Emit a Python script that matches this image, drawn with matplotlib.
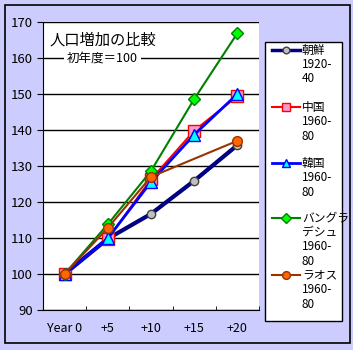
import numpy as np
import matplotlib
matplotlib.use("Agg")
import matplotlib.pyplot as plt
from matplotlib.patches import Rectangle
from matplotlib.lines import Line2D

plt.rcParams['font.family'] = ['Noto Sans CJK JP', 'DejaVu Sans']

# データ
categories = ["Year 0", "+5", "+10", "+15", "+20"]
chosen = [100, 109.8, 116.7, 125.9, 135.8]      # 朝鮮 1920-40
china = [100, 109.8, 126.3, 139.8, 149.4]       # 中国 1960-80
korea = [100, 109.9, 125.6, 138.7, 150.0]       # 韓国 1960-80
bangla = [100, 113.8, 128.6, 148.6, 166.9]      # バングラデシュ 1960-80
laos = [100, 112.8, 127.0, np.nan, 137.0]       # ラオス 1960-80

labels = [["朝鮮", "1920-", "40"], ["中国", "1960-", "80"], ["韓国", "1960-", "80"],
          ["バングラ", "デシュ", "1960-", "80"], ["ラオス", "1960-", "80"]]

W, H = 353, 350
def fx(px):
    return px / W
def fy(py):
    return 1 - py / H

fig = plt.figure(figsize=(W / 100, H / 100), dpi=100)
fig.patch.set_facecolor('#CCCCFF')
fig.patches.append(Rectangle((fx(5), fy(343)), 345 / W, 338 / H, transform=fig.transFigure,
                             fill=False, edgecolor='black', linewidth=1.2))

ax = fig.add_axes([fx(43), fy(310), 216 / W, 288 / H])
ax.set_facecolor('white')
x = np.arange(len(categories))

styles = [
    dict(color='#000080', lw=3, marker='o', ms=6, mfc='#C0C0C0', mec='#404040'),
    dict(color='#FF0000', lw=1.5, marker='s', ms=8, mfc='#FF99CC', mec='#FF0000'),
    dict(color='#0000FF', lw=2, marker='^', ms=8, mfc='#00FFFF', mec='#0000FF'),
    dict(color='#008000', lw=1.5, marker='D', ms=6, mfc='#00FF00', mec='#008000'),
    dict(color='#993300', lw=1.5, marker='o', ms=7, mfc='#FF6600', mec='#993300'),
]
for vals, st in zip([chosen, china, korea, bangla, laos], styles):
    v = np.array(vals, dtype=float)
    ok = ~np.isnan(v)
    ax.plot(x[ok], v[ok], **st)

ax.set_xlim(-0.5, 4.5)
ax.set_ylim(90, 170)
ax.set_yticks(np.arange(90, 171, 10))
ax.set_xticks(x)
ax.set_xticklabels(categories)
ax.set_xticks(np.arange(-0.5, 4.6, 1), minor=True)
ax.tick_params(axis='x', which='major', length=0, pad=9, labelsize=9)
ax.tick_params(axis='x', which='minor', length=3, direction='in')
ax.tick_params(axis='y', length=4, direction='out', labelsize=9.5)
ax.yaxis.grid(True, color='black', linewidth=1)
ax.set_axisbelow(True)
for s in ['top', 'right']:
    ax.spines[s].set_visible(False)

fig.text(fx(50), fy(40), "人口増加の比較", fontsize=11, va='center', ha='left')
fig.text(fx(67), fy(58), "初年度＝100", fontsize=9, va='center', ha='left',
         bbox=dict(facecolor='white', edgecolor='none', pad=2))

# 凡例 (手作り)
fig.patches.append(Rectangle((fx(265), fy(321)), 77 / W, 279 / H, transform=fig.transFigure,
                             facecolor='white', edgecolor='black', linewidth=1))
entry_y = [50, 107, 163, 218, 275]
for ey, lab, st in zip(entry_y, labels, styles):
    fig.lines.append(Line2D([fx(272), fx(300)], [fy(ey), fy(ey)], transform=fig.transFigure,
                            color=st['color'], lw=min(st['lw'], 2.5)))
    fig.lines.append(Line2D([fx(286)], [fy(ey)], transform=fig.transFigure, linestyle='none',
                            marker=st['marker'], ms=st['ms'] * 0.8, mfc=st['mfc'], mec=st['mec']))
    for k, line in enumerate(lab):
        fig.text(fx(302), fy(ey + k * 14.5), line, fontsize=8.5, va='center', ha='left')

fig.savefig("out.png", dpi=100, facecolor=fig.get_facecolor())
